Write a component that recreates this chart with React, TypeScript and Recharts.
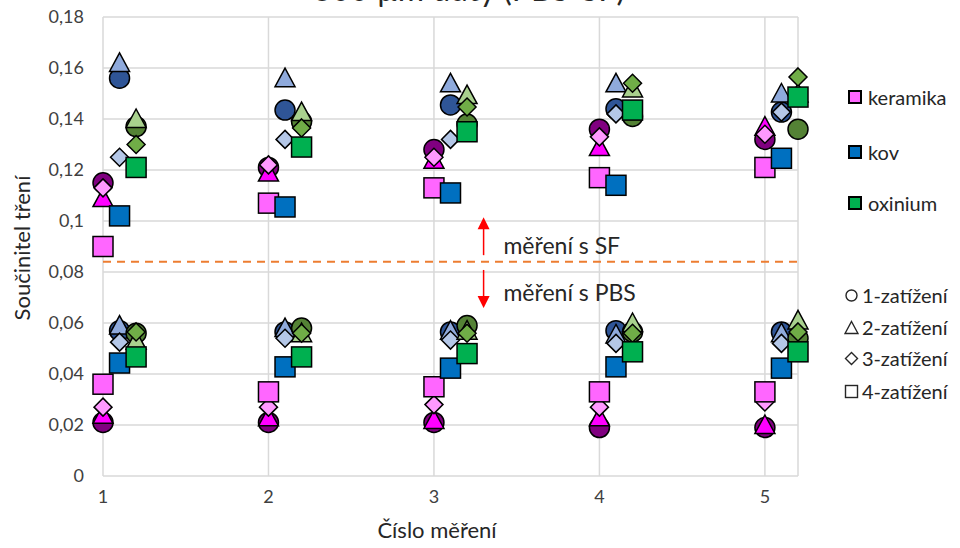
import React from 'react';
import {
  ScatterChart,
  Scatter,
  XAxis,
  YAxis,
  CartesianGrid,
  ReferenceLine,
  ReferenceDot,
} from 'recharts';

const measurements = [1, 2, 3, 4, 5];
const materials = ['keramika', 'kov', 'oxinium'];
const loads = ['1-zatížení', '2-zatížení', '3-zatížení', '4-zatížení'];
const materialOffsets = [0, 0.1, 0.2];
const xTicks = [1, 2, 3, 4, 5];
const yTicks = [0, 0.02, 0.04, 0.06, 0.08, 0.1, 0.12, 0.14, 0.16, 0.18];
const sfPbsBoundary = 0.084;

// rows: 1-zatížení (kruh), 2 (trojúhelník), 3 (kosočtverec), 4 (čtverec)
const keramikaSF = [
  [0.115, 0.121, 0.128, 0.136, 0.132],
  [0.109, 0.119, 0.124, 0.129, 0.137],
  [0.113, 0.122, 0.125, 0.133, 0.134],
  [0.09, 0.107, 0.113, 0.117, 0.121],
];
const keramikaPBS = [
  [0.021, 0.021, 0.021, 0.019, 0.019],
  [0.024, 0.023, 0.022, 0.023, 0.02],
  [0.027, 0.027, 0.028, 0.027, 0.029],
  [0.036, 0.033, 0.035, 0.033, 0.033],
];
const kovSF = [
  [0.156, 0.1435, 0.1455, 0.144, 0.1427],
  [0.162, 0.156, 0.154, 0.154, 0.15],
  [0.125, 0.132, 0.132, 0.142, 0.1427],
  [0.102, 0.1055, 0.111, 0.114, 0.1246],
];
const kovPBS = [
  [0.057, 0.0565, 0.0565, 0.057, 0.0565],
  [0.059, 0.058, 0.057, 0.0555, 0.056],
  [0.0525, 0.054, 0.0533, 0.052, 0.052],
  [0.0443, 0.0428, 0.0423, 0.0428, 0.0423],
];
const oxiniumSF = [
  [0.137, 0.139, 0.138, 0.141, 0.136],
  [0.14, 0.1427, 0.1494, 0.152, 0.15],
  [0.13, 0.1365, 0.1447, 0.154, 0.1565],
  [0.121, 0.129, 0.135, 0.1435, 0.1486],
];
const oxiniumPBS = [
  [0.056, 0.058, 0.059, 0.0565, 0.054],
  [0.053, 0.056, 0.057, 0.06, 0.061],
  [0.0565, 0.056, 0.056, 0.056, 0.0565],
  [0.0467, 0.0467, 0.048, 0.0487, 0.0487],
];

const keramikaColors = ['#800080', '#FF00FF', '#FF99FF', '#FF66FF'];
const kovColors = ['#2F5597', '#8FAADC', '#B4C7E7', '#0070C0'];
const oxiniumColors = ['#548235', '#A9D18E', '#70AD47', '#00B050'];
const legendColors = ['#FF66FF', '#0070C0', '#00B050'];

const sfSets = [keramikaSF, kovSF, oxiniumSF];
const pbsSets = [keramikaPBS, kovPBS, oxiniumPBS];
const colorSets = [keramikaColors, kovColors, oxiniumColors];

const FONT = 'Lato, "Open Sans", sans-serif';
const TEXT = '#404040';

function marker(kind: number, fill: string) {
  return (props: any) => {
    const { cx, cy } = props;
    if (cx == null || cy == null) return <g />;
    const s = { fill, stroke: '#000', strokeWidth: 1.5 };
    if (kind === 0) return <circle cx={cx} cy={cy} r={10} {...s} />;
    if (kind === 1)
      return <polygon points={`${cx},${cy - 10} ${cx + 10},${cy + 8.5} ${cx - 10},${cy + 8.5}`} {...s} />;
    if (kind === 2)
      return <polygon points={`${cx},${cy - 9} ${cx + 9},${cy} ${cx},${cy + 9} ${cx - 9},${cy}`} {...s} />;
    return <rect x={cx - 10} y={cy - 10} width={20} height={20} {...s} />;
  };
}

const series = materials.flatMap((mat, mi) =>
  loads.map((load, li) => ({
    key: `${mat}-${li}`,
    name: `${mat} ${load}`,
    color: colorSets[mi][li],
    kind: li,
    data: [
      ...measurements.map((m, i) => ({ x: m + materialOffsets[mi], y: sfSets[mi][li][i] })),
      ...measurements.map((m, i) => ({ x: m + materialOffsets[mi], y: pbsSets[mi][li][i] })),
    ],
  }))
);

const arrowHead = (dir: 'up' | 'down') => (props: any) => {
  const { cx, cy } = props;
  if (cx == null) return <g />;
  const h = dir === 'up' ? 12 : -12;
  return <polygon points={`${cx},${cy} ${cx + 6},${cy + h} ${cx - 6},${cy + h}`} fill="#FF0000" />;
};

const noteText = (text: string) => (props: any) => {
  const { cx, cy } = props;
  if (cx == null) return <g />;
  return (
    <text x={cx} y={cy} dominantBaseline="central" fontFamily={FONT} fontSize={23} fill="#262626">
      {text}
    </text>
  );
};

const fmt = (v: number) => String(+v.toFixed(2)).replace('.', ',');

function LoadIcon({ kind }: { kind: number }) {
  const s = { fill: 'none', stroke: '#262626', strokeWidth: 1.4 };
  return (
    <svg width={15} height={15} style={{ display: 'block' }}>
      {kind === 0 && <circle cx={7.5} cy={7.5} r={5.5} {...s} />}
      {kind === 1 && <polygon points="7.5,1.5 14,13.5 1,13.5" {...s} />}
      {kind === 2 && <polygon points="7.5,1.5 13.5,7.5 7.5,13.5 1.5,7.5" {...s} />}
      {kind === 3 && <rect x={1.5} y={1.5} width={12} height={12} {...s} />}
    </svg>
  );
}

export default function App() {
  const materialY = [97, 152, 203];
  const loadY = [295, 327, 358, 391];
  return (
    <div style={{ position: 'absolute', left: 0, top: 0, width: 960, height: 548, background: '#fff', fontFamily: FONT }}>
      <ScatterChart width={960} height={548} margin={{ top: 17, right: 162, left: 0, bottom: 0 }}>
        <CartesianGrid stroke="#D9D9D9" strokeWidth={1.5} />
        <XAxis
          type="number"
          dataKey="x"
          domain={[1, 5.2]}
          ticks={xTicks}
          height={72}
          axisLine={false}
          tickLine={false}
          tickMargin={8}
          tick={{ fill: TEXT, fontSize: 18, fontFamily: FONT }}
        />
        <YAxis
          type="number"
          dataKey="y"
          domain={[0, 0.18]}
          ticks={yTicks}
          width={103}
          axisLine={false}
          tickLine={false}
          tickMargin={13}
          tickFormatter={fmt}
          tick={{ fill: TEXT, fontSize: 18, fontFamily: FONT }}
        />
        <ReferenceLine y={sfPbsBoundary} stroke="#ED7D31" strokeWidth={2} strokeDasharray="8 6" />
        <ReferenceLine segment={[{ x: 3.3, y: 0.0866 }, { x: 3.3, y: 0.097 }]} stroke="#FF0000" strokeWidth={1.5} />
        <ReferenceLine segment={[{ x: 3.3, y: 0.0808 }, { x: 3.3, y: 0.0705 }]} stroke="#FF0000" strokeWidth={1.5} />
        <ReferenceDot x={3.3} y={0.1015} shape={arrowHead('up')} />
        <ReferenceDot x={3.3} y={0.0659} shape={arrowHead('down')} />
        <ReferenceDot x={3.42} y={0.0906} shape={noteText('měření s SF')} />
        <ReferenceDot x={3.42} y={0.0721} shape={noteText('měření s PBS')} />
        {series.map((s) => (
          <Scatter
            key={s.key}
            name={s.name}
            data={s.data}
            fill={s.color}
            shape={marker(s.kind, s.color)}
            isAnimationActive={false}
          />
        ))}
      </ScatterChart>

      <div style={{ position: 'absolute', left: 0, top: 0, width: 960, height: 10, overflow: 'hidden' }}>
        <div style={{ position: 'absolute', left: 0, width: 938, top: -30, textAlign: 'center', fontSize: 32, color: '#262626', lineHeight: '38px' }}>
          300 µm dutý (PBS-SF)
        </div>
      </div>

      <div style={{ position: 'absolute', left: 287, width: 300, top: 516, textAlign: 'center', fontSize: 22, color: '#262626', lineHeight: '28px' }}>
        Číslo měření
      </div>
      <div
        style={{
          position: 'absolute',
          left: 22 - 150,
          top: 248 - 14,
          width: 300,
          textAlign: 'center',
          fontSize: 22,
          color: '#262626',
          lineHeight: '28px',
          transform: 'rotate(-90deg)',
        }}
      >
        Součinitel tření
      </div>

      {materials.map((m, i) => (
        <div key={m} style={{ position: 'absolute', left: 848, top: materialY[i] - 13, height: 26, display: 'flex', alignItems: 'center', fontSize: 20, color: '#262626' }}>
          <div style={{ width: 10, height: 10, background: legendColors[i], border: '2px solid #000', marginRight: 6 }} />
          {m}
        </div>
      ))}
      {loads.map((l, i) => (
        <div key={l} style={{ position: 'absolute', left: 844, top: loadY[i] - 13, height: 26, display: 'flex', alignItems: 'center', fontSize: 20, color: '#262626' }}>
          <div style={{ marginRight: 3 }}>
            <LoadIcon kind={i} />
          </div>
          {l}
        </div>
      ))}
    </div>
  );
}
